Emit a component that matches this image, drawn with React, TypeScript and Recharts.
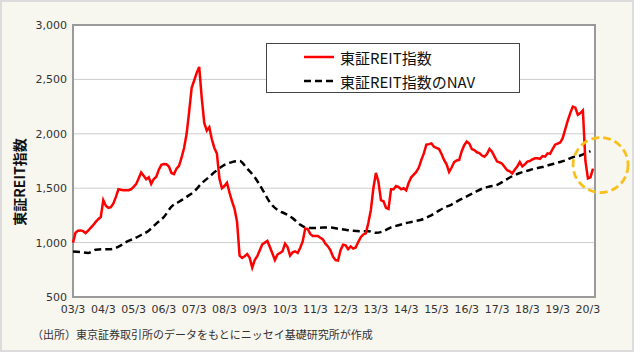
import React from "react";
import {
  LineChart,
  Line,
  XAxis,
  YAxis,
  CartesianGrid,
  ReferenceArea,
  ReferenceDot,
} from "recharts";

// x軸ラベル（毎年3月）
const tickLabels = [
  "03/3", "04/3", "05/3", "06/3", "07/3", "08/3", "09/3", "10/3", "11/3",
  "12/3", "13/3", "14/3", "15/3", "16/3", "17/3", "18/3", "19/3", "20/3",
];

const yTicks = [500, 1000, 1500, 2000, 2500, 3000];

// 東証REIT指数（月次、2003/3〜2020/5）
const reitIndex = [
  1000, 1090, 1110, 1112, 1105, 1088, 1110, 1135, 1160, 1190, 1215, 1235,
  1390, 1338, 1320, 1325, 1360, 1420, 1490, 1485, 1482, 1482, 1482, 1490,
  1512, 1537, 1590, 1645, 1614, 1583, 1600, 1540, 1585, 1605, 1670, 1715,
  1722, 1720, 1700, 1640, 1630, 1680, 1706, 1780, 1870, 1998, 2200, 2420,
  2490, 2560, 2615, 2330, 2100, 2030, 2060, 1950, 1870, 1820, 1590, 1500,
  1520, 1550, 1460, 1380, 1310, 1190, 880, 860, 875, 895, 860, 770,
  840, 875, 930, 985, 1000, 1015, 960, 900, 840, 890, 905, 920,
  990, 960, 880, 910, 920, 905, 950, 1010, 1130, 1125, 1080, 1060,
  1060, 1060, 1045, 1030, 990, 965, 930, 870, 840, 835, 930, 980,
  975, 940, 965, 945, 955, 1005, 1050, 1075, 1085, 1180, 1300, 1500,
  1640, 1560, 1390, 1380, 1320, 1310, 1490, 1490, 1520, 1510, 1490, 1500,
  1480, 1550, 1600, 1625, 1650, 1690, 1760, 1820, 1900, 1905, 1912, 1880,
  1870, 1860, 1815, 1760, 1720, 1650, 1690, 1740, 1755, 1760, 1840, 1895,
  1928, 1910, 1860, 1850, 1830, 1822, 1800, 1790, 1814, 1860, 1835, 1790,
  1745, 1738, 1725, 1695, 1665, 1655, 1636, 1670, 1700, 1740, 1700, 1720,
  1745, 1750, 1765, 1775, 1775, 1770, 1795, 1790, 1820, 1815, 1860, 1900,
  1910, 1920, 1960, 2040, 2120, 2190, 2250, 2240, 2175, 2190, 2215, 1750,
  1590, 1600, 1680,
];

// 東証REIT指数のNAV（四半期ごと）
const navMonths = [
  0, 3, 6, 9, 12, 15, 18, 21, 24, 27, 30, 33, 36, 39, 42, 45, 48, 51, 54,
  57, 60, 63, 66, 69, 72, 75, 78, 81, 84, 87, 90, 93, 96, 99, 102, 105, 108,
  111, 114, 117, 120, 123, 126, 129, 132, 135, 138, 141, 144, 147, 150, 153,
  156, 159, 162, 165, 168, 171, 174, 177, 180, 183, 186, 189, 192, 195, 198,
  201, 204, 205,
];
const navValues = [
  918, 912, 905, 935, 940, 940, 962, 1005, 1035, 1070, 1110, 1175, 1235,
  1330, 1375, 1420, 1470, 1545, 1605, 1665, 1715, 1740, 1750, 1680, 1600,
  1490, 1370, 1300, 1267, 1225, 1165, 1135, 1135, 1138, 1138, 1128, 1118,
  1108, 1105, 1105, 1090, 1105, 1140, 1160, 1180, 1195, 1210, 1240, 1280,
  1320, 1350, 1390, 1425, 1460, 1495, 1515, 1530, 1570, 1610, 1640, 1660,
  1680, 1695, 1715, 1735, 1755, 1785, 1800, 1830, 1840,
];

const reitData = reitIndex.map((v, i) => ({ m: i, reit: v }));
const navData = navMonths.map((m, i) => ({ m, nav: navValues[i] }));

const xMax = 206.8;
const tickFont = { fontSize: 11, fill: "#333", fontFamily: "DejaVu Sans" };
const jpFont = "'Noto Sans CJK JP', sans-serif";

export default function App() {
  return (
    <div
      style={{
        position: "absolute",
        left: 0,
        top: 0,
        width: 634,
        height: 352,
        boxSizing: "border-box",
        background: "#f7f6ef",
        border: "2px solid #dcdcdc",
      }}
    >
      <div style={{ position: "absolute", left: -2, top: -2 }}>
        <LineChart
          width={634}
          height={352}
          data={reitData}
          margin={{ top: 25, right: 39, bottom: 35, left: 13 }}
        >
          <CartesianGrid
            vertical={false}
            stroke="#cccccc"
            fill="#ffffff"
            horizontalValues={[1000, 1500, 2000, 2500]}
          />
          <XAxis
            type="number"
            dataKey="m"
            domain={[0, xMax]}
            ticks={tickLabels.map((_, i) => i * 12)}
            tickFormatter={(v: number) => tickLabels[Math.round(v / 12)]}
            interval={0}
            axisLine={false}
            tickLine={false}
            tick={tickFont}
            height={20}
          />
          <YAxis
            type="number"
            domain={[500, 3000]}
            ticks={yTicks}
            tickFormatter={(v: number) => v.toLocaleString("en-US")}
            axisLine={false}
            tickLine={false}
            tickMargin={0}
            tick={tickFont}
            width={60}
          />
          <ReferenceArea
            x1={0}
            x2={xMax}
            y1={500}
            y2={3000}
            fill="none"
            fillOpacity={0}
            stroke="#9a9a9a"
            strokeWidth={2}
          />
          <Line
            data={navData}
            dataKey="nav"
            type="monotone"
            stroke="#000"
            strokeWidth={2.5}
            strokeDasharray="7 4"
            dot={false}
            isAnimationActive={false}
          />
          <Line
            dataKey="reit"
            type="linear"
            stroke="#ff0000"
            strokeWidth={2.5}
            dot={false}
            isAnimationActive={false}
          />
          <ReferenceDot
            x={209}
            y={1713}
            r={27.5}
            fill="none"
            stroke="#f8c01c"
            strokeWidth={2.8}
            strokeDasharray="8 4"
            ifOverflow="visible"
          />
        </LineChart>
      </div>

      {/* 縦軸タイトル */}
      <div
        style={{
          position: "absolute",
          left: 19 - 2,
          top: 182 - 2,
          transform: "translate(-50%, -50%) rotate(-90deg)",
          whiteSpace: "nowrap",
          fontFamily: jpFont,
          fontWeight: 700,
          fontSize: 14,
          color: "#111",
          lineHeight: 1,
        }}
      >
        東証REIT指数
      </div>

      {/* 凡例 */}
      <div
        style={{
          position: "absolute",
          left: 266 - 2,
          top: 43 - 2,
          width: 254,
          height: 50,
          boxSizing: "border-box",
          background: "#fff",
          border: "1px solid #444",
          fontFamily: jpFont,
          fontSize: 15,
          color: "#111",
        }}
      >
        <div style={{ position: "absolute", left: 37, top: 2, display: "flex", alignItems: "center", height: 22 }}>
          <svg width={30} height={6} style={{ marginRight: 6 }}>
            <line x1={0} y1={3} x2={30} y2={3} stroke="#ff0000" strokeWidth={2.5} />
          </svg>
          東証REIT指数
        </div>
        <div style={{ position: "absolute", left: 37, top: 26, display: "flex", alignItems: "center", height: 22 }}>
          <svg width={30} height={6} style={{ marginRight: 6 }}>
            <line x1={0} y1={3} x2={30} y2={3} stroke="#000" strokeWidth={2.5} strokeDasharray="7 4" />
          </svg>
          東証REIT指数のNAV
        </div>
      </div>

      {/* 出所 */}
      <div
        style={{
          position: "absolute",
          left: 30,
          top: 325,
          fontFamily: jpFont,
          fontSize: 11,
          color: "#333",
          whiteSpace: "nowrap",
          lineHeight: "14px",
        }}
      >
        （出所）東京証券取引所のデータをもとにニッセイ基礎研究所が作成
      </div>
    </div>
  );
}
